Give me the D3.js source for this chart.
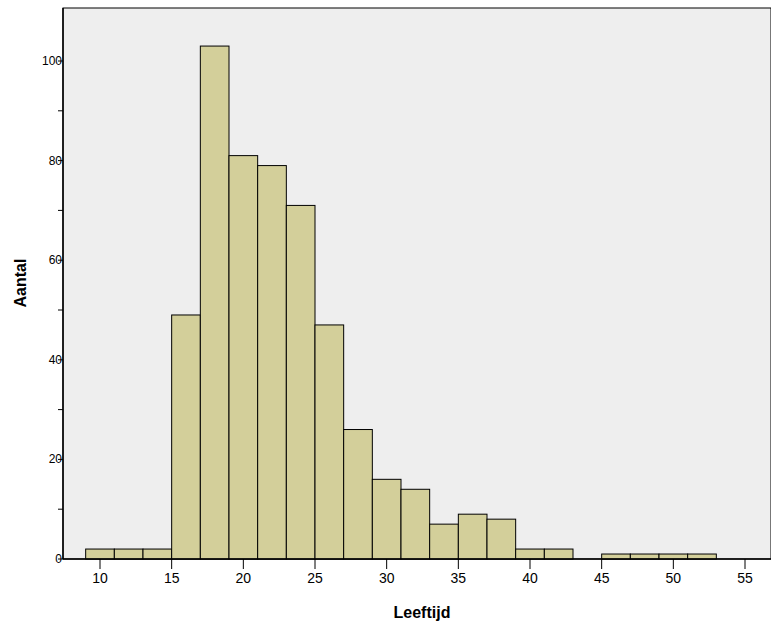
<!DOCTYPE html>
<html><head><meta charset="utf-8">
<script src="https://cdn.jsdelivr.net/npm/d3@7"></script>
<style>body{margin:0;background:#fff}svg{display:block;font-family:Arial,"Liberation Sans",sans-serif}</style>
</head><body><svg width="771" height="622"></svg>
<script>
// histogram bins (start of bin, width 2) and counts
var binStarts = [9,11,13,15,17,19,21,23,25,27,29,31,33,35,37,39,41,45,47,49,51];
var counts    = [2,2,2,49,103,81,79,71,47,26,16,14,7,9,8,2,2,1,1,1,1];
var xTicks = [10,15,20,25,30,35,40,45,50,55];
var yTicks = [0,20,40,60,80,100];
var yMinor = [10,30,50,70,90];

var svg = d3.select("svg");
var pLeft = 63, pRight = 771, pTop = 8, pBottom = 559;
var x = d3.scaleLinear().domain([10,55]).range([100,745]);
var y = d3.scaleLinear().domain([0,100]).range([pBottom,61]);

svg.append("rect").attr("x",pLeft).attr("y",pTop).attr("width",pRight-pLeft).attr("height",pBottom-pTop)
  .attr("fill","#eeeeee").attr("stroke","#000").attr("stroke-width",1);

svg.selectAll("rect.bar").data(binStarts).enter().append("rect").attr("class","bar")
  .attr("x",d => x(d)).attr("width",d => x(d+2)-x(d))
  .attr("y",(d,i) => y(counts[i])).attr("height",(d,i) => pBottom-y(counts[i]))
  .attr("fill","#d3cf9a").attr("stroke","#000").attr("stroke-width",1);

// axes
svg.append("line").attr("x1",pLeft).attr("x2",pRight).attr("y1",pBottom).attr("y2",pBottom).attr("stroke","#000").attr("stroke-width",1.5);
svg.append("line").attr("x1",pLeft).attr("x2",pLeft).attr("y1",pTop).attr("y2",pBottom).attr("stroke","#000").attr("stroke-width",1.5);

yTicks.concat(yMinor).forEach(v => {
  svg.append("line").attr("x1",pLeft-5).attr("x2",pLeft).attr("y1",y(v)).attr("y2",y(v)).attr("stroke","#000");
});
yTicks.forEach(v => {
  svg.append("text").attr("x",pLeft-1).attr("y",y(v)+4).attr("text-anchor","end")
    .attr("font-size",12).text(v);
});
xTicks.forEach(v => {
  svg.append("line").attr("x1",x(v)).attr("x2",x(v)).attr("y1",pBottom).attr("y2",pBottom+10).attr("stroke","#000");
  svg.append("text").attr("x",x(v)).attr("y",pBottom+24).attr("text-anchor","middle")
    .attr("font-size",14).text(v);
});

svg.append("text").attr("x",422).attr("y",618).attr("text-anchor","middle")
  .attr("font-size",16).attr("font-weight","bold").text("Leeftijd");
svg.append("text").attr("transform","translate(26,283) rotate(-90)").attr("text-anchor","middle")
  .attr("font-size",16).attr("font-weight","bold").text("Aantal");
</script></body></html>
